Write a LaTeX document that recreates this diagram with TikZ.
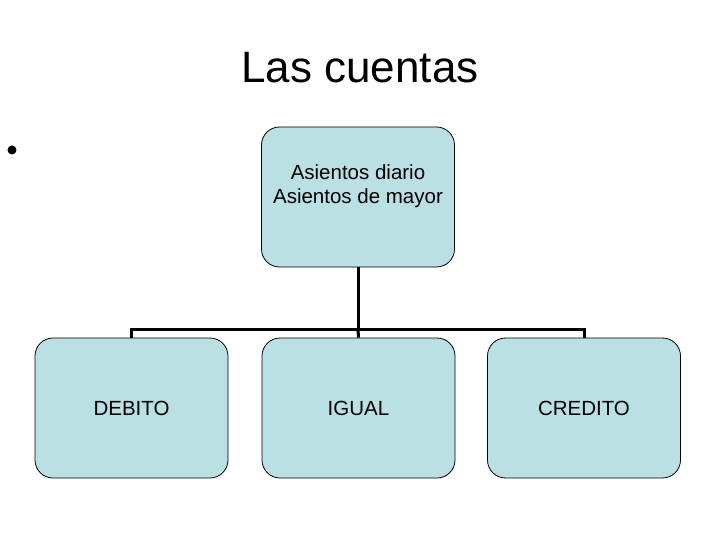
\documentclass[tikz,border=0pt]{standalone}
\usepackage{fontspec}
\setmainfont{Liberation Sans}
\definecolor{boxfill}{RGB}{187,224,227}
\begin{document}
\begin{tikzpicture}[x=1pt,y=-1pt,
  orgbox/.style={draw=black, line width=0.8pt, fill=boxfill, rounded corners=18pt,
    minimum width=193pt, minimum height=140pt, inner sep=0pt, font=\fontsize{20.5}{24}\selectfont, align=center},
  link/.style={line width=3pt}]
\useasboundingbox (0,0) rectangle (720,540);
\node[font=\fontsize{44}{50}\selectfont] (title) at (360,68) {Las cuentas};
\fill (12,150) circle (4.5);
\node[orgbox] (top) at (358,197) {};
\node[font=\fontsize{20.5}{24}\selectfont, align=center] (toptext) at (358,186) {Asientos diario\\Asientos de mayor};
\node[orgbox] (deb) at (131.5,408) {DEBITO};
\node[orgbox] (igu) at (358.5,408) {IGUAL};
\node[orgbox] (cre) at (584,408) {CREDITO};
\coordinate (j) at (358,329);
\draw[link] (top.south) -- (j);
\draw[link] (deb.north) -- (deb.north |- j) -- (cre.north |- j) -- (cre.north);
\draw[link] (j) -- (igu.north);
\end{tikzpicture}
\end{document}
